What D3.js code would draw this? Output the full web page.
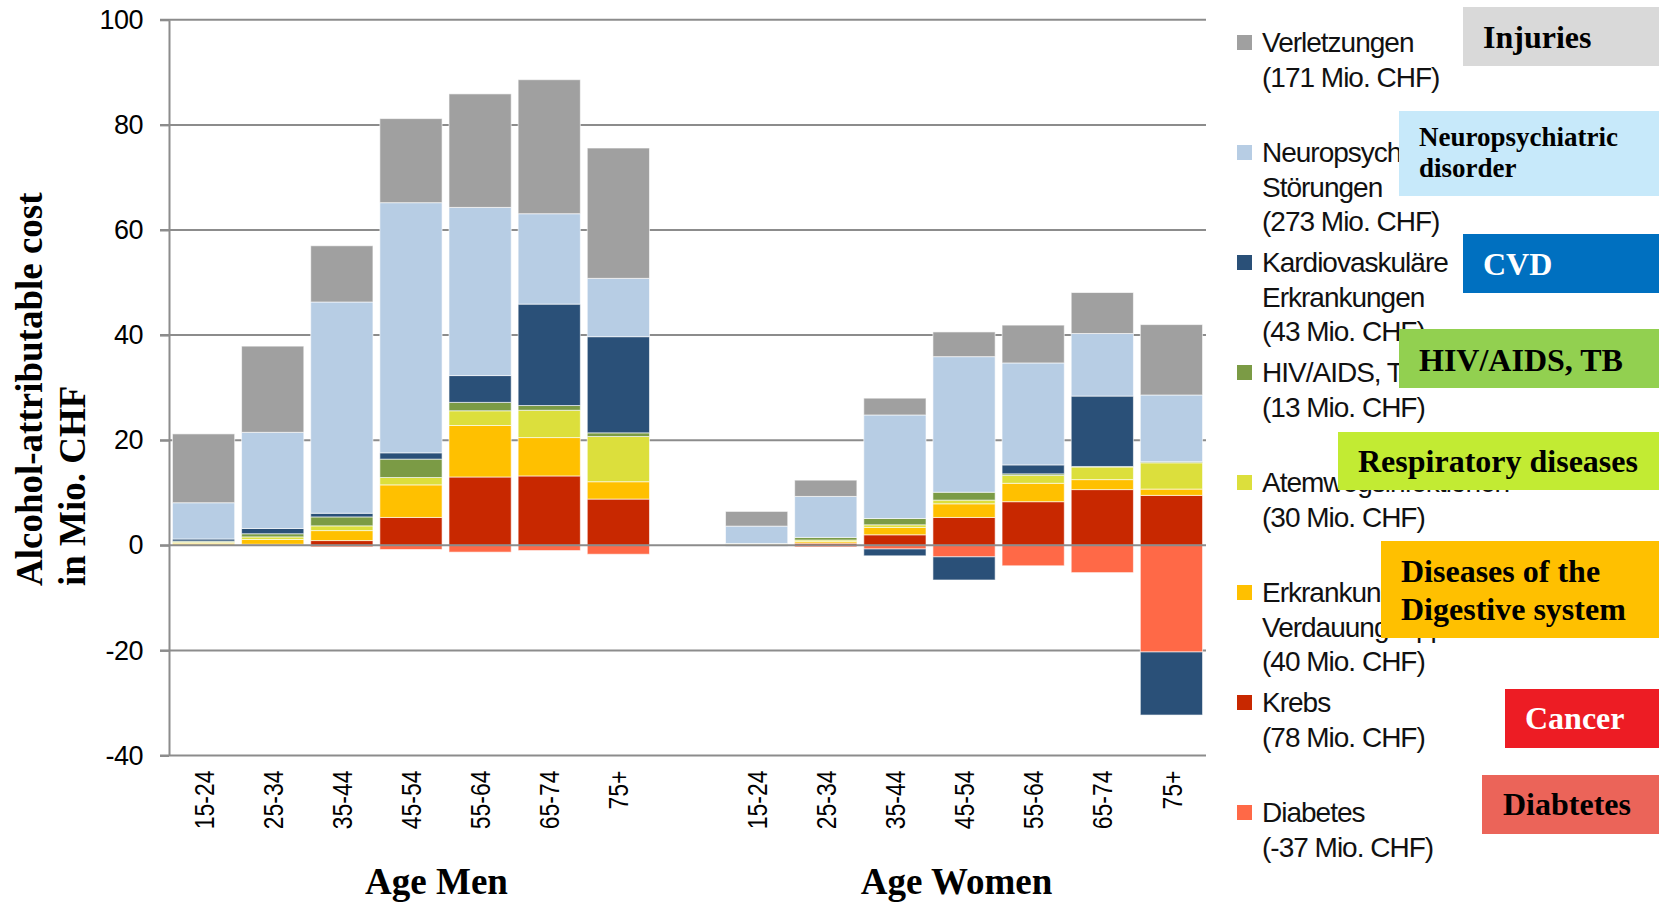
<!DOCTYPE html>
<html>
<head>
<meta charset="utf-8">
<script src="https://cdn.jsdelivr.net/npm/d3@7"></script>
<style>
  html, body { margin: 0; padding: 0; background: #fff; }
  svg { display: block; }
</style>
</head>
<body>
<svg id="chart" width="1659" height="905"></svg>
<script>
// ---------------- DATA ----------------
const ages = ["15-24", "25-34", "35-44", "45-54", "55-64", "65-74", "75+"];
const sexes = ["M", "W"];
const groupTitles = ["Age Men", "Age Women"];
const yTicks = [-40, -20, 0, 20, 40, 60, 80, 100];
const yTickLabels = ["-40", "-20", "0", "20", "40", "60", "80", "100"];

// values in Mio. CHF, men (7 age groups) then women (7 age groups)
const injuries  = [13.1, 16.4, 10.7, 16.0, 21.6, 25.5, 24.8,   2.8, 3.1, 3.2, 4.7, 7.2, 7.8, 13.4];
const neuro     = [6.9, 18.3, 40.2, 47.6, 32.0, 17.2, 11.1,   3.3, 7.8, 19.7, 25.8, 19.4, 11.9, 12.7];
const cvd       = [0.4, 1.0, 0.7, 1.2, 5.1, 19.3, 18.3,   -0.15, 0.0, -1.3, -4.4, 1.7, 13.4, -12.0];
const hiv       = [0.2, 0.6, 1.7, 3.5, 1.6, 0.9, 0.7,   0.05, 0.5, 1.2, 1.5, 0.3, 0.1, 0.2];
const resp      = [0.2, 0.5, 0.9, 1.4, 2.8, 5.2, 8.6,   0.15, 0.3, 0.5, 0.7, 1.5, 2.4, 5.0];
const digestive = [0.3, 0.9, 1.9, 6.2, 9.8, 7.3, 3.3,   0.1, 0.3, 1.4, 2.6, 3.5, 1.9, 1.2];
const cancer    = [0.1, 0.2, 0.9, 5.3, 13.0, 13.2, 8.8,   0.05, 0.4, 2.0, 5.3, 8.3, 10.6, 9.5];
const diabetes  = [0.0, -0.1, -0.3, -0.8, -1.3, -1.0, -1.7,   0.0, -0.3, -0.7, -2.2, -3.9, -5.2, -20.3];

// stacking order (diabetes first so it sits next to zero on the negative side)
const seriesKeys = ["diabetes", "cancer", "digestive", "resp", "hiv", "cvd", "neuro", "injuries"];
const seriesValues = { injuries, neuro, cvd, hiv, resp, digestive, cancer, diabetes };
const seriesColors = {
  injuries: "#a0a0a0", neuro: "#b7cde4", cvd: "#2a5078", hiv: "#7b9b45",
  resp: "#dcdf3c", digestive: "#ffc000", cancer: "#c82800", diabetes: "#ff6947"
};

// legend (top to bottom)
const legendKeys = ["injuries", "neuro", "cvd", "hiv", "resp", "digestive", "cancer", "diabetes"];
const legendLabels = [
  ["Verletzungen", "(171 Mio. CHF)"],
  ["Neuropsychiatrische", "Störungen", "(273 Mio. CHF)"],
  ["Kardiovaskuläre", "Erkrankungen", "(43 Mio. CHF)"],
  ["HIV/AIDS, Tuberkulose", "(13 Mio. CHF)"],
  ["Atemwegsinfektionen", "(30 Mio. CHF)"],
  ["Erkrankungen des", "Verdauungsapparates", "(40 Mio. CHF)"],
  ["Krebs", "(78 Mio. CHF)"],
  ["Diabetes", "(-37 Mio. CHF)"]
];

// English annotation boxes laid over the legend
const noteLabels = [
  ["Injuries"],
  ["Neuropsychiatric", "disorder"],
  ["CVD"],
  ["HIV/AIDS, TB"],
  ["Respiratory diseases"],
  ["Diseases of the", "Digestive system"],
  ["Cancer"],
  ["Diabtetes"]
];

// ---------------- LAYOUT / STYLE ----------------
const noteStyle = [
  { x: 1463, y: 7,   w: 196, h: 59, fill: "#d9d9d9", color: "#000", size: 32, tx: 20, base: [41] },
  { x: 1399, y: 111, w: 260, h: 85, fill: "#c7e9fa", color: "#000", size: 27, tx: 20, base: [35, 66] },
  { x: 1463, y: 234, w: 196, h: 59, fill: "#0070c0", color: "#fff", size: 32, tx: 20, base: [41] },
  { x: 1399, y: 329, w: 260, h: 59, fill: "#92d050", color: "#000", size: 32, tx: 20, base: [42] },
  { x: 1338, y: 432, w: 321, h: 58, fill: "#c2eb33", color: "#000", size: 32, tx: 20, base: [40] },
  { x: 1381, y: 541, w: 278, h: 97, fill: "#ffc000", color: "#000", size: 32, tx: 20, base: [41, 79] },
  { x: 1505, y: 689, w: 154, h: 59, fill: "#ed1c24", color: "#fff", size: 32, tx: 20, base: [40] },
  { x: 1482, y: 775, w: 177, h: 59, fill: "#eb6459", color: "#000", size: 32, tx: 21, base: [40] }
];

const plotLeft = 169, plotRight = 1206;
const svg = d3.select("#chart");

// rows
const rows = [];
const domain = [];
sexes.forEach((s, si) => {
  if (si > 0) domain.push("gap");
  ages.forEach((a, ai) => {
    const key = s + "|" + a;
    domain.push(key);
    const r = { key };
    seriesKeys.forEach(k => r[k] = seriesValues[k][si * ages.length + ai]);
    rows.push(r);
  });
});

const x = d3.scaleBand().domain(domain).range([plotLeft, plotRight])
  .paddingInner(0.1).paddingOuter(0.05);
const y = d3.scaleLinear().domain([-40, 100]).range([755.5, 19.8]);

// gridlines
svg.append("g").selectAll("line").data(yTicks.filter(v => v !== 0)).join("line")
  .attr("x1", 160).attr("x2", plotRight)
  .attr("y1", d => y(d)).attr("y2", d => y(d))
  .attr("stroke", "#8c8c8c").attr("stroke-width", 2);

// stacked bars
const stack = d3.stack().keys(seriesKeys).offset(d3.stackOffsetDiverging);
const stacked = stack(rows);
svg.append("g").selectAll("g").data(stacked).join("g")
  .attr("fill", d => seriesColors[d.key])
  .selectAll("rect").data(d => d.filter(p => Math.abs(p[1] - p[0]) > 1e-9)).join("rect")
  .attr("x", d => x(d.data.key))
  .attr("width", x.bandwidth())
  .attr("y", d => y(Math.max(d[0], d[1])))
  .attr("height", d => Math.abs(y(d[0]) - y(d[1])))
  .attr("stroke", "#ffffff").attr("stroke-opacity", 0.6).attr("stroke-width", 1);

// zero line on top
svg.append("line")
  .attr("x1", 160).attr("x2", plotRight).attr("y1", y(0)).attr("y2", y(0))
  .attr("stroke", "#8c8c8c").attr("stroke-width", 2);

// y axis
const yAxis = svg.append("g").attr("transform", `translate(${plotLeft},0)`)
  .call(d3.axisLeft(y).tickValues(yTicks).tickSize(9).tickSizeOuter(0).tickPadding(17)
    .tickFormat(d => yTickLabels[yTicks.indexOf(d)]));
yAxis.select(".domain").attr("stroke", "#8c8c8c").attr("stroke-width", 2);
yAxis.selectAll(".tick line").attr("stroke", "#8c8c8c").attr("stroke-width", 2);
yAxis.selectAll(".tick text")
  .attr("font-family", "'Liberation Sans', Arial, sans-serif")
  .attr("font-size", 27).attr("fill", "#000").attr("letter-spacing", "-0.5px");

// x axis labels
const xAxis = svg.append("g").attr("transform", `translate(0,${y(-40)})`)
  .call(d3.axisBottom(x).tickSize(0).tickFormat(d => d === "gap" ? "" : d.split("|")[1]));
xAxis.select(".domain").remove();
xAxis.selectAll(".tick text")
  .attr("font-family", "'Liberation Sans', Arial, sans-serif")
  .attr("font-size", 28).attr("fill", "#000")
  .attr("text-anchor", "end")
  .attr("transform", "translate(0,15) rotate(-90) scale(0.82,1)")
  .attr("x", 0).attr("y", 0).attr("dy", "0.36em");

// group titles
const groupCenters = [436.5, 956.5];
svg.append("g").selectAll("text").data(groupTitles).join("text")
  .attr("x", (d, i) => groupCenters[i]).attr("y", 894)
  .attr("text-anchor", "middle")
  .attr("font-family", "'Liberation Serif', 'Times New Roman', serif")
  .attr("font-weight", "bold").attr("font-size", 37).attr("fill", "#000")
  .text(d => d);

// y title
const yTitle = ["Alcohol-attributable cost", "in Mio. CHF"];
svg.append("g").selectAll("text").data(yTitle).join("text")
  .attr("transform", (d, i) => `translate(${[42, 85][i]},586) rotate(-90)`)
  .attr("text-anchor", "start")
  .attr("font-family", "'Liberation Serif', 'Times New Roman', serif")
  .attr("font-weight", "bold").attr("font-size", 37).attr("fill", "#000")
  .text(d => d);

// legend
const lg = svg.append("g");
legendKeys.forEach((k, i) => {
  const base = 52 + 110 * i;
  lg.append("rect").attr("x", 1237).attr("y", base - 17).attr("width", 15).attr("height", 15)
    .attr("fill", seriesColors[k]);
  legendLabels[i].forEach((t, j) => {
    lg.append("text").attr("x", 1262).attr("y", base + j * 34.5)
      .attr("font-family", "'Liberation Sans', Arial, sans-serif")
      .attr("font-size", 28).attr("letter-spacing", "-1px").attr("fill", "#111")
      .text(t);
  });
});

// annotation boxes
const ng = svg.append("g");
noteLabels.forEach((lines, i) => {
  const s = noteStyle[i];
  ng.append("rect").attr("x", s.x).attr("y", s.y).attr("width", s.w).attr("height", s.h).attr("fill", s.fill);
  lines.forEach((t, j) => {
    ng.append("text").attr("x", s.x + s.tx).attr("y", s.y + s.base[j])
      .attr("font-family", "'Liberation Serif', 'Times New Roman', serif")
      .attr("font-weight", "bold").attr("font-size", s.size).attr("fill", s.color)
      .text(t);
  });
});
</script>
</body>
</html>
